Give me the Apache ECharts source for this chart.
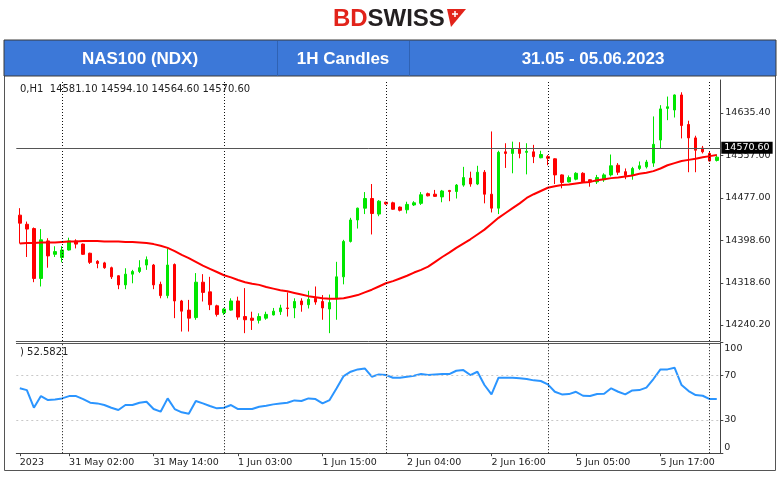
<!DOCTYPE html>
<html><head><meta charset="utf-8">
<script src="https://cdn.jsdelivr.net/npm/echarts@6/dist/echarts.min.js"></script>
<style>html,body{margin:0;padding:0;background:#fff}#c{width:780px;height:478px}</style>
</head><body><div id="c"></div>
<script>
// ---- sessions (trading hours 01:00..23:00) ----
const sessionDays = ['30 May', '31 May', '1 Jun', '2 Jun', '5 Jun', '6 Jun'];
const sessionFirstHour = [18, 1, 1, 1, 1, 1];
const sessionLastHour = [23, 23, 23, 23, 23, 2];

// ---- OHLC (NAS100, H1) ----
const opens = [14445,14428,14420,14327,14397,14372,14366,14380,14397,14391,14374,14359,14356,14347,14332,14315,14335,14340,14352,14352,
14316,14295,14353,14285,14268,14254,14320,14302,14276,14263,14268,14285,14256,14253,14249,14253,14259,14265,14272,14272,
14285,14278,14290,14284,14270,14290,14330,14396,14436,14458,14476,14447,14469,14468,14460,14455,14464,14467,14485,14484,
14479,14491,14489,14501,14514,14503,14525,14484,14458,14563,14560,14568,14562,14563,14552,14554,14550,14520,14507,14512,
14523,14511,14507,14511,14520,14538,14526,14520,14532,14535,14542,14585,14644,14641,14669,14614,14589,14570,14560,14547];
const highs = [14458,14433,14422,14419,14402,14387,14387,14403,14400,14392,14375,14361,14358,14349,14333,14346,14343,14361,14368,14354,
14321,14383,14355,14287,14287,14337,14335,14330,14278,14272,14290,14293,14309,14265,14262,14265,14272,14278,14301,14290,
14290,14304,14312,14296,14297,14358,14399,14440,14459,14488,14503,14473,14470,14470,14461,14470,14471,14488,14487,14492,
14492,14492,14503,14535,14526,14537,14529,14601,14565,14579,14582,14581,14579,14576,14565,14557,14551,14521,14519,14525,
14525,14512,14520,14523,14558,14542,14532,14535,14545,14548,14629,14650,14666,14670,14674,14621,14593,14574,14563,14558];
const lows = [14392,14367,14320,14312,14347,14367,14357,14379,14383,14371,14354,14346,14345,14326,14307,14307,14318,14337,14343,14307,
14290,14290,14253,14228,14228,14250,14284,14268,14256,14259,14267,14250,14225,14231,14243,14250,14258,14259,14256,14253,
14265,14271,14278,14250,14225,14250,14316,14394,14420,14447,14409,14443,14464,14455,14452,14448,14462,14464,14480,14479,
14469,14471,14476,14498,14498,14501,14467,14450,14447,14533,14523,14551,14521,14542,14551,14538,14503,14495,14506,14510,
14505,14498,14503,14507,14517,14520,14512,14511,14529,14532,14535,14570,14622,14627,14588,14525,14525,14560,14545,14545];
const closes = [14430,14419,14327,14399,14369,14377,14380,14397,14391,14372,14357,14355,14347,14330,14315,14335,14340,14347,14362,14315,
14295,14352,14285,14266,14253,14320,14301,14278,14260,14270,14285,14255,14250,14249,14256,14260,14266,14272,14271,14284,
14278,14288,14283,14272,14282,14330,14396,14436,14458,14476,14448,14471,14466,14456,14454,14465,14468,14483,14481,14480,
14490,14489,14501,14515,14503,14525,14484,14458,14562,14560,14568,14560,14564,14554,14558,14551,14520,14506,14515,14523,
14507,14507,14515,14520,14537,14525,14519,14532,14537,14544,14577,14643,14647,14669,14612,14589,14566,14563,14546,14553];

// ---- moving average (red) ----
const maValues = [14392,14393,14393,14394,14394,14394,14395,14396,14396,14397,14397,14397,14396,14396,14396,14395,14395,14394,14393,14391,
14388,14384,14378,14371,14365,14358,14351,14345,14339,14333,14329,14324,14320,14317,14315,14311,14308,14305,14303,14300,
14297,14294,14292,14290,14289,14289,14290,14293,14296,14301,14306,14312,14318,14322,14327,14332,14338,14343,14349,14358,
14367,14375,14384,14392,14400,14409,14418,14429,14440,14449,14458,14467,14477,14484,14490,14496,14499,14501,14502,14504,
14506,14507,14510,14512,14514,14515,14517,14519,14522,14524,14527,14532,14538,14542,14546,14548,14550,14553,14555,14557];

// ---- RSI ----
const rsiValues = [58.6,57.0,41.1,51.6,48.0,48.6,49.5,51.6,51.6,48.9,45.6,45.0,43.5,41.1,39.0,43.5,43.5,45.6,46.5,39.9,
37.5,49.5,39.9,36.9,35.7,47.1,45.0,42.6,40.5,41.1,43.5,39.9,39.9,39.9,42.0,42.9,44.1,45.0,45.6,47.7,
47.1,49.5,48.9,45.0,48.0,58.6,69.7,73.6,75.7,76.6,69.1,71.2,70.6,68.2,68.2,69.1,70.0,71.5,70.6,71.2,
71.5,71.5,74.5,75.1,70.6,73.6,61.6,53.1,68.2,68.2,68.2,67.6,67.0,65.8,65.2,62.2,55.5,53.1,53.4,55.5,
51.9,51.6,53.4,53.7,58.6,55.5,53.1,56.7,57.0,59.2,67.0,75.7,75.7,77.2,61.6,56.1,52.5,51.9,48.9,48.9];

// ---- ticks / labels ----
const priceTicks = [14240.20, 14318.60, 14398.60, 14477.00, 14557.00, 14635.40];
const rsiTicks = [0, 30, 70, 100];
const rsiLevels = [30, 70];
const firstTickLabel = '2023';
const timeTickLabels = ['31 May 02:00','31 May 14:00','1 Jun 03:00','1 Jun 15:00','2 Jun 04:00','2 Jun 16:00','5 Jun 05:00','5 Jun 17:00'];
const lastPrice = 14570.60;
const infoLine = '0,H1  14581.10 14594.10 14564.60 14570.60';
const rsiInfo = ') 52.5821';

// build categories
const categories = [];
sessionDays.forEach((d, k) => {
  for (let h = sessionFirstHour[k]; h <= sessionLastHour[k]; h++) {
    categories.push(d + ' ' + String(h).padStart(2, '0') + ':00');
  }
});
const labelIdx = new Set([0]);
timeTickLabels.forEach(t => { const i = categories.indexOf(t); if (i >= 0) labelIdx.add(i); });
const dayStarts = categories.filter(c => c.endsWith(' 01:00'));

const candleData = opens.map((o, i) => [o, closes[i], lows[i], highs[i]]);

const FONT = 'DejaVu Sans';
const chart = echarts.init(document.getElementById('c'), null, {renderer: 'canvas'});
const showIdx = (i) => labelIdx.has(i);

const sepLine = {
  silent: true, symbol: 'none', label: {show: false},
  lineStyle: {color: '#111', type: [1, 2], width: 1},
  data: dayStarts.map(c => ({xAxis: c}))
};

chart.setOption({
  animation: false,
  backgroundColor: '#ffffff',
  textStyle: {fontFamily: FONT},
  grid: [
    {left: 16.3, top: 80, width: 704, height: 261},
    {left: 16.3, top: 342.5, width: 704, height: 110.7}
  ],
  xAxis: [
    {type: 'category', gridIndex: 0, data: categories, boundaryGap: true,
     axisLine: {show: true, lineStyle: {color: '#555'}}, axisTick: {show: false}, axisLabel: {show: false}, splitLine: {show: false}},
    {type: 'category', gridIndex: 1, data: categories, boundaryGap: true,
     axisLine: {show: true, lineStyle: {color: '#444'}},
     axisTick: {show: true, alignWithLabel: true, interval: showIdx, length: 3, lineStyle: {color: '#444'}},
     axisLabel: {show: true, interval: showIdx, align: 'left', color: '#222', fontSize: 9.5, fontFamily: FONT, margin: 4,
       formatter: (v, i) => (i === 0 ? firstTickLabel : v)},
     splitLine: {show: false}}
  ],
  yAxis: [
    {type: 'value', gridIndex: 0, position: 'right', min: 14210.4, max: 14696.9, scale: true,
     axisLine: {show: true, lineStyle: {color: '#444'}},
     axisTick: {show: true, length: 3, customValues: priceTicks, lineStyle: {color: '#444'}},
     axisLabel: {show: true, customValues: priceTicks, formatter: v => Number(v).toFixed(2), margin: 5, color: '#222', fontSize: 9.5, fontFamily: FONT},
     splitLine: {show: false}},
    {type: 'value', gridIndex: 1, position: 'right', min: 0, max: 100,
     axisLine: {show: true, lineStyle: {color: '#444'}},
     axisTick: {show: true, length: 3, customValues: rsiTicks, lineStyle: {color: '#444'}},
     axisLabel: {show: true, customValues: rsiTicks, margin: 4, color: '#222', fontSize: 9.5, fontFamily: FONT,
       formatter: v => (v === 100 ? '{t|100}' : v === 0 ? '{b|0}' : String(v)),
       rich: {t: {padding: [12, 0, 0, 0], fontSize: 9.5, color: '#222', fontFamily: FONT},
              b: {padding: [0, 0, 12, 0], fontSize: 9.5, color: '#222', fontFamily: FONT}}},
     splitLine: {show: false}}
  ],
  series: [
    {type: 'candlestick', xAxisIndex: 0, yAxisIndex: 0, data: candleData, barWidth: 3,
     itemStyle: {color: '#00e600', color0: '#ff0000', borderColor: '#00e600', borderColor0: '#ff0000', borderWidth: 1},
     markLine: {
       silent: true, symbol: 'none', animation: false,
       data: [
         ...dayStarts.map(c => ({xAxis: c, lineStyle: {color: '#111', type: [1, 2], width: 1}, label: {show: false}})),
         {yAxis: lastPrice, lineStyle: {color: '#555', type: 'solid', width: 1},
          label: {show: true, position: 'end', formatter: lastPrice.toFixed(2), backgroundColor: '#000', color: '#fff',
                  padding: [1, 3], fontSize: 9.5, fontFamily: FONT, distance: 1}}
       ]
     }},
    {type: 'line', xAxisIndex: 0, yAxisIndex: 0, data: maValues, showSymbol: false, symbol: 'none', z: 4,
     lineStyle: {color: '#ff0000', width: 2}},
    {type: 'line', xAxisIndex: 1, yAxisIndex: 1, data: rsiValues, showSymbol: false, symbol: 'none', z: 4,
     lineStyle: {color: '#2b95ff', width: 2},
     markLine: {
       silent: true, symbol: 'none', animation: false,
       data: [
         ...rsiLevels.map(v => ({yAxis: v, lineStyle: {color: '#c8c8c8', type: [2, 3], width: 1}, label: {show: false}})),
         ...dayStarts.map(c => ({xAxis: c, lineStyle: {color: '#111', type: [1, 2], width: 1}, label: {show: false}}))
       ]
     }}
  ],
  graphic: [
    // outer frame
    {type: 'rect', shape: {x: 4.5, y: 40.5, width: 771, height: 430}, style: {fill: 'none', stroke: '#555', lineWidth: 1}, silent: true},
    // header bar
    {type: 'rect', shape: {x: 4, y: 40, width: 772, height: 36}, style: {fill: '#3c78d8', stroke: '#3a3a3a', lineWidth: 1}, silent: true},
    {type: 'line', shape: {x1: 277.5, y1: 41, x2: 277.5, y2: 76}, style: {stroke: '#2f62b3', lineWidth: 1}, silent: true},
    {type: 'line', shape: {x1: 409.5, y1: 41, x2: 409.5, y2: 76}, style: {stroke: '#2f62b3', lineWidth: 1}, silent: true},
    {type: 'text', style: {text: 'NAS100 (NDX)', x: 140, y: 59, fill: '#fff', font: 'bold 17px "Liberation Sans", Arial, sans-serif', textAlign: 'center', textVerticalAlign: 'middle', align: 'center', verticalAlign: 'middle'}, silent: true},
    {type: 'text', style: {text: '1H Candles', x: 343, y: 59, fill: '#fff', font: 'bold 17px "Liberation Sans", Arial, sans-serif', textAlign: 'center', textVerticalAlign: 'middle', align: 'center', verticalAlign: 'middle'}, silent: true},
    {type: 'text', style: {text: '31.05 - 05.06.2023', x: 593, y: 59, fill: '#fff', font: 'bold 17px "Liberation Sans", Arial, sans-serif', textAlign: 'center', textVerticalAlign: 'middle', align: 'center', verticalAlign: 'middle'}, silent: true},
    // logo
    {type: 'text', style: {text: 'BD', x: 333, y: 19, fill: '#e2231a', font: 'bold 24px "Liberation Sans", Arial, sans-serif', textAlign: 'left', textVerticalAlign: 'middle', align: 'left', verticalAlign: 'middle'}, silent: true},
    {type: 'text', style: {text: 'SWISS', x: 367.5, y: 19, fill: '#231f20', font: 'bold 24px "Liberation Sans", Arial, sans-serif', textAlign: 'left', textVerticalAlign: 'middle', align: 'left', verticalAlign: 'middle'}, silent: true},
    {type: 'polygon', shape: {points: [[447, 9], [466, 9], [451, 27]]}, style: {fill: '#e2231a'}, silent: true},
    {type: 'polyline', shape: {points: [[452, 14], [458, 14]]}, style: {stroke: '#fff', lineWidth: 1.5}, silent: true},
    {type: 'polyline', shape: {points: [[455, 11], [455, 17]]}, style: {stroke: '#fff', lineWidth: 1.5}, silent: true},
    // panel separator (top of indicator window)
    {type: 'line', shape: {x1: 16, y1: 343.5, x2: 720, y2: 343.5}, style: {stroke: '#555', lineWidth: 1}, silent: true},
    // info texts
    {type: 'text', style: {text: infoLine, x: 20, y: 89, fill: '#222', font: '10px "DejaVu Sans"', textAlign: 'left', textVerticalAlign: 'middle', align: 'left', verticalAlign: 'middle'}, silent: true},
    {type: 'text', style: {text: rsiInfo, x: 20, y: 352, fill: '#222', font: '10px "DejaVu Sans"', textAlign: 'left', textVerticalAlign: 'middle', align: 'left', verticalAlign: 'middle'}, silent: true}
  ]
});
</script></body></html>
